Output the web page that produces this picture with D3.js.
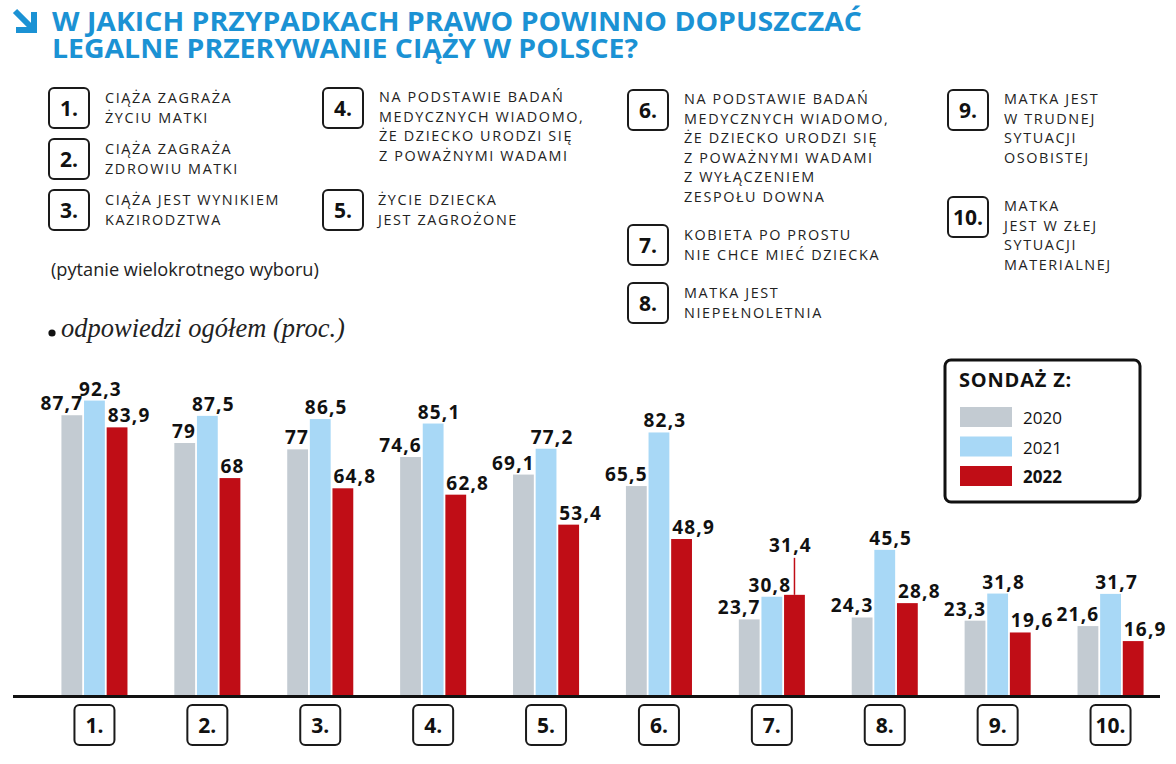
<!DOCTYPE html>
<html>
<head>
<meta charset="utf-8">
<script src="https://cdn.jsdelivr.net/npm/d3@7"></script>
<style>
  body { margin: 0; background: #fff; }
  svg { display: block; }
</style>
</head>
<body>
<div id="chart"></div>
<script>
// data
const categories = ['1.', '2.', '3.', '4.', '5.', '6.', '7.', '8.', '9.', '10.'];
const years = ['2020', '2021', '2022'];
const values2020 = [87.7, 79, 77, 74.6, 69.1, 65.5, 23.7, 24.3, 23.3, 21.6];
const values2021 = [92.3, 87.5, 86.5, 85.1, 77.2, 82.3, 30.8, 45.5, 31.8, 31.7];
const values2022 = [83.9, 68, 64.8, 62.8, 53.4, 48.9, 31.4, 28.8, 19.6, 16.9];
const descriptions = [
    ['CIĄŻA ZAGRAŻA', 'ŻYCIU MATKI'],
    ['CIĄŻA ZAGRAŻA', 'ZDROWIU MATKI'],
    ['CIĄŻA JEST WYNIKIEM', 'KAZIRODZTWA'],
    ['NA PODSTAWIE BADAŃ', 'MEDYCZNYCH WIADOMO,', 'ŻE DZIECKO URODZI SIĘ', 'Z POWAŻNYMI WADAMI'],
    ['ŻYCIE DZIECKA', 'JEST ZAGROŻONE'],
    ['NA PODSTAWIE BADAŃ', 'MEDYCZNYCH WIADOMO,', 'ŻE DZIECKO URODZI SIĘ', 'Z POWAŻNYMI WADAMI', 'Z WYŁĄCZENIEM', 'ZESPOŁU DOWNA'],
    ['KOBIETA PO PROSTU', 'NIE CHCE MIEĆ DZIECKA'],
    ['MATKA JEST', 'NIEPEŁNOLETNIA'],
    ['MATKA JEST', 'W TRUDNEJ', 'SYTUACJI', 'OSOBISTEJ'],
    ['MATKA', 'JEST W ZŁEJ', 'SYTUACJI', 'MATERIALNEJ']
];

const width = 1176;
const height = 764;
const margin = {top: 376, bottom: 69, left: 38, right: 9};
const colors = ['#c3cbd2', '#a8d8f6', '#c00d16'];
const blue = '#1b92d4';
const sans = 'Open Sans, sans-serif';

const data = categories.map((c, i) => ({
    cat: c,
    vals: [values2020[i], values2021[i], values2022[i]]
}));

const fmt = v => String(v).replace('.', ',');

const svg = d3.select('#chart')
    .append('svg')
        .attr('width', width)
        .attr('height', height)
        .attr('viewBox', [0, 0, width, height]);

// title
const arrow = svg.append('g').attr('fill', 'none').attr('stroke', blue).attr('stroke-width', 6);
arrow.append('path').attr('d', 'M15,11 L31,27');
arrow.append('path').attr('d', 'M16,30 L34,30 L34,12').attr('stroke-linejoin', 'miter');

svg.append('text')
    .attr('x', 52).attr('y', 31)
    .attr('font-family', sans).attr('font-weight', 700).attr('font-size', 27)
    .attr('fill', blue)
    .attr('textLength', 810).attr('lengthAdjust', 'spacingAndGlyphs')
    .text('W JAKICH PRZYPADKACH PRAWO POWINNO DOPUSZCZAĆ');
svg.append('text')
    .attr('x', 52).attr('y', 58)
    .attr('font-family', sans).attr('font-weight', 700).attr('font-size', 27)
    .attr('fill', blue)
    .attr('textLength', 586).attr('lengthAdjust', 'spacingAndGlyphs')
    .text('LEGALNE PRZERYWANIE CIĄŻY W POLSCE?');

// descriptions of the categories
const descLayout = [
    {x: 49, y: 88}, {x: 49, y: 139}, {x: 49, y: 190},
    {x: 323, y: 88}, {x: 323, y: 190},
    {x: 628, y: 90}, {x: 628, y: 225}, {x: 628, y: 283},
    {x: 948, y: 90}, {x: 948, y: 197}
];

function numBox(g, cx, top, label) {
    g.append('rect')
        .attr('x', cx - 20).attr('y', top)
        .attr('width', 40).attr('height', 40)
        .attr('rx', 5)
        .attr('fill', '#fff').attr('stroke', '#1a1a1a').attr('stroke-width', 2);
    g.append('text')
        .attr('x', cx).attr('y', top + 28)
        .attr('text-anchor', 'middle')
        .attr('font-family', sans).attr('font-weight', 700).attr('font-size', 21)
        .attr('fill', '#111')
        .text(label);
}

const desc = svg.append('g');
descLayout.forEach((p, i) => {
    const g = desc.append('g');
    numBox(g, p.x + 20, p.y, categories[i]);
    const tx = p.x + (i === 4 ? 55 : 56);
    const lines = descriptions[i];
    const firstBase = lines.length > 2 ? p.y + 14 : p.y + 15;
    lines.forEach((l, j) => {
        g.append('text')
            .attr('x', tx).attr('y', firstBase + j * 19.6)
            .attr('font-family', sans).attr('font-size', 14.4)
            .attr('letter-spacing', 1.6)
            .attr('fill', '#222')
            .text(l);
    });
});

svg.append('text')
    .attr('x', 51).attr('y', 276)
    .attr('font-family', sans).attr('font-size', 18.2)
    .attr('fill', '#222')
    .text('(pytanie wielokrotnego wyboru)');

svg.append('circle').attr('cx', 52).attr('cy', 333).attr('r', 3.6).attr('fill', '#111');
svg.append('text')
    .attr('x', 61).attr('y', 337)
    .attr('font-family', 'Liberation Serif, serif').attr('font-style', 'italic').attr('font-size', 26.5)
    .attr('fill', '#222')
    .text('odpowiedzi ogółem (proc.)');

// scales
const x = d3.scaleBand()
    .domain(categories)
    .range([margin.left, width - margin.right])
    .paddingInner(0.415)
    .paddingOuter(0.2075);

const xs = d3.scaleBand()
    .domain(years)
    .range([0, x.bandwidth()])
    .paddingInner(0.08);

const y = d3.scaleLinear()
    .domain([0, 100])
    .range([height - margin.bottom, margin.top]);

// bars
const groups = svg.append('g')
    .selectAll('g')
    .data(data)
    .join('g')
        .attr('transform', d => `translate(${x(d.cat)},0)`);

groups.selectAll('rect')
    .data(d => d.vals.map((v, k) => ({year: years[k], v, k})))
    .join('rect')
        .attr('x', d => xs(d.year))
        .attr('y', d => y(d.v))
        .attr('width', xs.bandwidth())
        .attr('height', d => y(0) - y(d.v))
        .attr('fill', d => colors[d.k]);

// value labels
groups.each(function(d) {
    const g = d3.select(this);
    const lab = d.vals.map((v, k) => {
        let lx, anchor;
        if (k === 0) { lx = xs(years[k]) + xs.bandwidth() + 1; anchor = 'end'; }
        else if (k === 1) { lx = xs(years[k]) + xs.bandwidth() / 2 + 6; anchor = 'middle'; }
        else { lx = xs(years[k]) + 1; anchor = 'start'; }
        return g.append('text')
            .attr('x', lx).attr('y', y(v) - 5)
            .attr('text-anchor', anchor)
            .attr('font-family', sans).attr('font-weight', 700).attr('font-size', 19)
            .attr('letter-spacing', 1.2)
            .attr('fill', '#111')
            .text(fmt(v));
    });
    // lift the 2022 label when it runs into the 2021 label
    const b1 = lab[1].node().getBBox();
    const b2 = lab[2].node().getBBox();
    const overlap = b2.x < b1.x + b1.width && b2.y < b1.y + b1.height && b2.y + b2.height > b1.y;
    if (overlap) {
        const cx = xs(years[2]) + xs.bandwidth() / 2;
        const top = y(d.vals[2]);
        lab[1].attr('x', xs(years[1]) + xs.bandwidth() / 2 - 2);
        lab[2].attr('x', cx - 4).attr('y', top - 43).attr('text-anchor', 'middle');
        g.append('line')
            .attr('x1', cx).attr('x2', cx)
            .attr('y1', top - 37).attr('y2', top)
            .attr('stroke', colors[2]).attr('stroke-width', 1.5);
    }
});

// baseline
svg.append('line')
    .attr('x1', 13).attr('x2', 1160)
    .attr('y1', y(0) + 1.5).attr('y2', y(0) + 1.5)
    .attr('stroke', '#111').attr('stroke-width', 3);

// category boxes under the axis
const axisG = svg.append('g');
categories.forEach(c => {
    numBox(axisG, x(c) + x.bandwidth() / 2, y(0) + 10, c);
});

// legend
const leg = svg.append('g');
leg.append('rect')
    .attr('x', 945).attr('y', 360)
    .attr('width', 195).attr('height', 142)
    .attr('rx', 6)
    .attr('fill', '#fff').attr('stroke', '#111').attr('stroke-width', 3);
leg.append('text')
    .attr('x', 959).attr('y', 387)
    .attr('font-family', sans).attr('font-weight', 700).attr('font-size', 20)
    .attr('letter-spacing', 0.8)
    .attr('fill', '#111')
    .text('SONDAŻ Z:');
years.forEach((yr, k) => {
    leg.append('rect')
        .attr('x', 960).attr('y', 407 + k * 29.5)
        .attr('width', 52).attr('height', 20)
        .attr('fill', colors[k]);
    leg.append('text')
        .attr('x', 1023).attr('y', 424 + k * 29.5)
        .attr('font-family', sans).attr('font-size', 17)
        .attr('font-weight', k === 2 ? 700 : 400)
        .attr('fill', '#111')
        .text(yr);
});
</script>
</body>
</html>
